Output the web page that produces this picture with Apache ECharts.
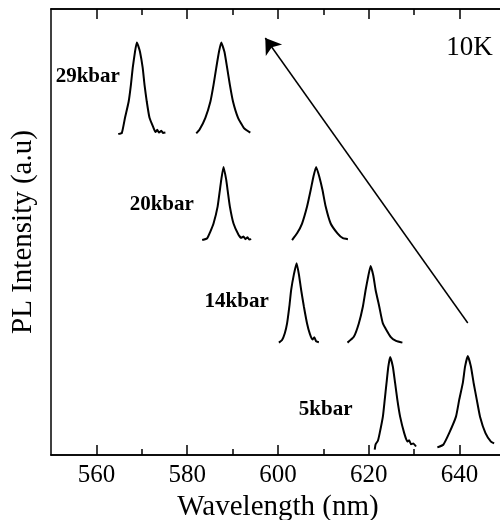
<!DOCTYPE html>
<html lang="en">
<head>
    <meta charset="UTF-8">
    <title>PL spectra under pressure</title>
    <script src="https://cdn.jsdelivr.net/npm/echarts@6/dist/echarts.min.js"></script>
    <style>
        html, body { margin: 0; padding: 0; background: #fff; }
        #main { width: 500px; height: 520px; }
    </style>
</head>
<body>
<div id="main"></div>
<script>
    // spectra: [wavelength (nm), intensity (a.u., stacked)]
    var p29a = [[564.8, 72.0], [565.6, 72.2], [566.3, 75.6], [567.1, 79.2], [567.6, 83.0], [568.0, 86.8], [568.5, 90.4], [568.9, 92.5],
        [569.2, 91.8], [569.6, 90.4], [570.2, 86.8], [570.6, 83.0], [571.1, 79.2], [571.7, 75.6], [572.6, 73.3], [573.0, 72.4],
        [573.4, 72.9], [573.8, 72.3], [574.3, 72.7], [574.7, 72.2], [575.2, 72.3]];
    var p29b = [[582.0, 72.1], [582.7, 72.9], [584.0, 75.6], [585.1, 79.2], [585.8, 83.0], [586.4, 86.8], [587.0, 90.4], [587.5, 92.5],
        [588.2, 90.4], [588.8, 86.8], [589.4, 83.0], [590.1, 79.2], [591.2, 75.6], [592.5, 73.3], [593.9, 72.3]];
    var p20a = [[583.3, 48.2], [584.4, 48.6], [585.1, 50.1], [585.8, 51.9], [586.7, 55.7], [587.2, 59.4], [587.5, 61.7], [588.0, 64.6],
        [588.6, 61.7], [588.9, 59.4], [589.4, 55.7], [590.2, 51.9], [591.3, 49.4], [591.9, 48.7], [592.4, 49.0], [592.8, 48.4],
        [593.3, 48.8], [593.7, 48.3], [594.1, 48.4]];
    var p20b = [[603.1, 48.2], [604.2, 49.7], [605.3, 51.9], [606.4, 55.7], [607.2, 59.4], [607.8, 62.4], [608.4, 64.6], [609.1, 62.4],
        [609.8, 59.4], [610.5, 55.7], [611.6, 51.9], [613.1, 49.7], [614.3, 48.6], [615.4, 48.4]];
    var p14a = [[600.2, 25.2], [600.9, 25.8], [601.5, 27.3], [602.0, 29.5], [602.5, 33.3], [602.9, 37.0], [603.5, 40.5], [604.1, 43.0],
        [604.6, 40.5], [605.1, 37.0], [605.7, 33.3], [606.4, 29.5], [607.0, 27.2], [607.6, 25.9], [608.0, 26.4], [608.4, 25.5], [609.0, 25.3]];
    var p14b = [[615.3, 25.2], [616.7, 26.5], [617.8, 29.5], [618.7, 33.3], [619.3, 37.0], [619.9, 40.2], [620.4, 42.4], [621.0, 40.2],
        [621.5, 37.0], [622.3, 33.3], [623.1, 29.5], [624.8, 26.5], [626.0, 25.6], [627.4, 25.2]];
    var p5a = [[621.3, 1.2], [621.5, 2.4], [622.0, 3.2], [622.4, 4.9], [623.1, 8.6], [623.5, 12.3], [623.9, 16.1], [624.3, 19.8], [624.7, 22.0],
        [625.3, 19.8], [625.8, 16.1], [626.3, 12.3], [626.9, 8.6], [627.8, 4.9], [628.5, 3.0], [628.9, 3.3], [629.3, 2.4], [629.8, 2.6], [630.4, 1.9]];
    var p5b = [[635.1, 1.7], [636.4, 2.3], [637.7, 4.9], [639.2, 8.6], [639.9, 12.3], [640.7, 16.1], [641.2, 19.8], [641.8, 22.2],
        [642.5, 19.8], [643.1, 16.1], [643.8, 12.3], [644.5, 8.6], [645.7, 4.9], [646.9, 3.0], [647.6, 2.6]];

    var spectra = [p29a, p29b, p20a, p20b, p14a, p14b, p5a, p5b];

    // pressure labels + temperature
    var labelText = ['29kbar', '20kbar', '14kbar', '5kbar'];
    var labelPos = [[558.1, 84.8], [574.4, 56.1], [590.9, 34.3], [610.5, 10.1]];
    var tempText = '10K';
    var tempPos = [642.2, 91.3];

    // arrow (tail -> head)
    var arrowFrom = [641.8, 29.6];
    var arrowTo = [597.2, 93.5];

    var majorTicks = [560, 580, 600, 620, 640];
    var minorTicks = [570, 590, 610, 630];

    var serif = '"Liberation Serif", "Times New Roman", serif';

    function xAx(pos, ticks, len, withLabels) {
        return {
            type: 'value', position: pos, min: 550, max: 650, interval: 10,
            axisLine: {show: true, onZero: false, lineStyle: {color: '#000', width: 1.5}},
            axisTick: {show: true, inside: true, length: len, customValues: ticks, lineStyle: {color: '#000', width: 1.5}},
            axisLabel: {show: withLabels, customValues: majorTicks, margin: 8, color: '#000', fontFamily: serif, fontSize: 25},
            splitLine: {show: false}
        };
    }

    var xMain = xAx('bottom', majorTicks, 10, true);
    xMain.name = 'Wavelength (nm)';
    xMain.nameLocation = 'middle';
    xMain.nameGap = 34;
    xMain.nameTextStyle = {color: '#000', fontFamily: serif, fontSize: 29};

    var series = spectra.map(function (d) {
        return {
            type: 'line', data: d, showSymbol: false, smooth: 0.15,
            lineStyle: {color: '#000', width: 2}, silent: true
        };
    });

    series.push({
        type: 'scatter', symbolSize: 0, silent: true,
        itemStyle: {opacity: 1},
        data: labelText.map(function (t, i) { return {name: t, value: labelPos[i]}; }),
        label: {show: true, position: 'inside', formatter: '{b}', color: '#000', opacity: 1,
            fontFamily: serif, fontWeight: 'bold', fontSize: 21},
        markLine: {
            silent: true, symbol: ['none', 'arrow'], symbolSize: 15,
            label: {show: false},
            lineStyle: {color: '#000', width: 1.5, type: 'solid', opacity: 1},
            data: [[{coord: arrowFrom}, {coord: arrowTo}]]
        }
    });
    series.push({
        type: 'scatter', symbolSize: 0, silent: true,
        itemStyle: {opacity: 1},
        data: [{name: tempText, value: tempPos}],
        label: {show: true, position: 'inside', formatter: '{b}', color: '#000', opacity: 1, fontFamily: serif, fontSize: 27}
    });

    var chart = echarts.init(document.getElementById('main'));
    chart.setOption({
        animation: false,
        backgroundColor: '#fff',
        grid: {left: 51, top: 9, right: -5, bottom: 65, outerBoundsMode: 'none', containLabel: false},
        xAxis: [
            xMain,
            xAx('bottom', minorTicks, 6, false),
            xAx('top', majorTicks, 10, false),
            xAx('top', minorTicks, 6, false)
        ],
        yAxis: {
            type: 'value', min: 0, max: 100,
            name: 'PL Intensity (a.u)', nameLocation: 'middle', nameGap: 13,
            nameTextStyle: {color: '#000', fontFamily: serif, fontSize: 29},
            axisLine: {show: true, lineStyle: {color: '#000', width: 1.5}},
            axisTick: {show: false}, axisLabel: {show: false}, splitLine: {show: false}
        },
        series: series
    });
</script>
</body>
</html>
